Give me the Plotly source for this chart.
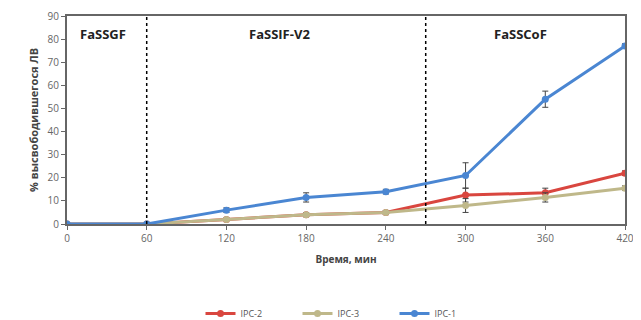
import plotly.graph_objects as go

time_min = [0, 60, 120, 180, 240, 300, 360, 420]
ipc2 = [0, 0, 2, 4, 5, 12.5, 13.5, 22]
ipc3 = [0, 0, 2, 4, 5, 8, 11.5, 15.5]
ipc1 = [0, 0, 6, 11.5, 14, 21, 54, 77]
ipc2_err = [0, 0, 0.5, 0.8, 0.8, 3, 2, 1]
ipc3_err = [0, 0, 0.5, 0.8, 0.8, 3, 2, 1]
ipc1_err = [0, 0, 1, 2, 1, 5.5, 3.5, 1]
phase_bounds = [60, 270]
phase_labels = ["FaSSGF", "FaSSIF-V2", "FaSSCoF"]
phase_label_x = [27, 160, 341]

series = [
    ("IPC-2", ipc2, ipc2_err, "#d9463f"),
    ("IPC-3", ipc3, ipc3_err, "#bfb88a"),
    ("IPC-1", ipc1, ipc1_err, "#4a86d2"),
]

fig = go.Figure()
for name, vals, err, color in series:
    fig.add_trace(go.Scatter(
        x=time_min, y=vals, name=name, mode="lines+markers",
        line=dict(color=color, width=3),
        marker=dict(color=color, size=7),
        error_y=dict(type="data", array=err, visible=True, color="#444", thickness=1, width=3),
    ))

for b in phase_bounds:
    fig.add_vline(x=b, line=dict(color="black", width=1.5, dash="dot"))

for lab, xx in zip(phase_labels, phase_label_x):
    fig.add_annotation(x=xx, y=82, text="<b>" + lab + "</b>", showarrow=False,
                       font=dict(family="Open Sans", size=13, color="#222"))

fig.update_layout(
    width=633, height=312,
    margin=dict(l=59, r=16, t=8, b=96, autoexpand=False),
    plot_bgcolor="white", paper_bgcolor="white",
    font=dict(family="Open Sans", size=10, color="#666"),
    showlegend=True,
    legend=dict(orientation="h", x=0.5, xanchor="center", y=-0.43, yanchor="middle",
                entrywidth=52, font=dict(size=9, color="#555")),
    xaxis=dict(range=[0, 420], tickvals=time_min, showgrid=False, zeroline=False,
               showline=True, linecolor="#666", linewidth=2, mirror=True,
               ticks="outside", ticklen=4, tickcolor="#666",
               title=dict(text="<b>Время, мин</b>", font=dict(size=10, color="#444"), standoff=12)),
    yaxis=dict(range=[0, 90], dtick=10, showgrid=False, zeroline=False,
               showline=True, linecolor="#666", linewidth=2, mirror=True,
               ticks="outside", ticklen=4, tickcolor="#666",
               title=dict(text="<b>% высвободившегося ЛВ</b>", font=dict(size=11, color="#444"), standoff=7)),
)

fig.write_html("out.html")
